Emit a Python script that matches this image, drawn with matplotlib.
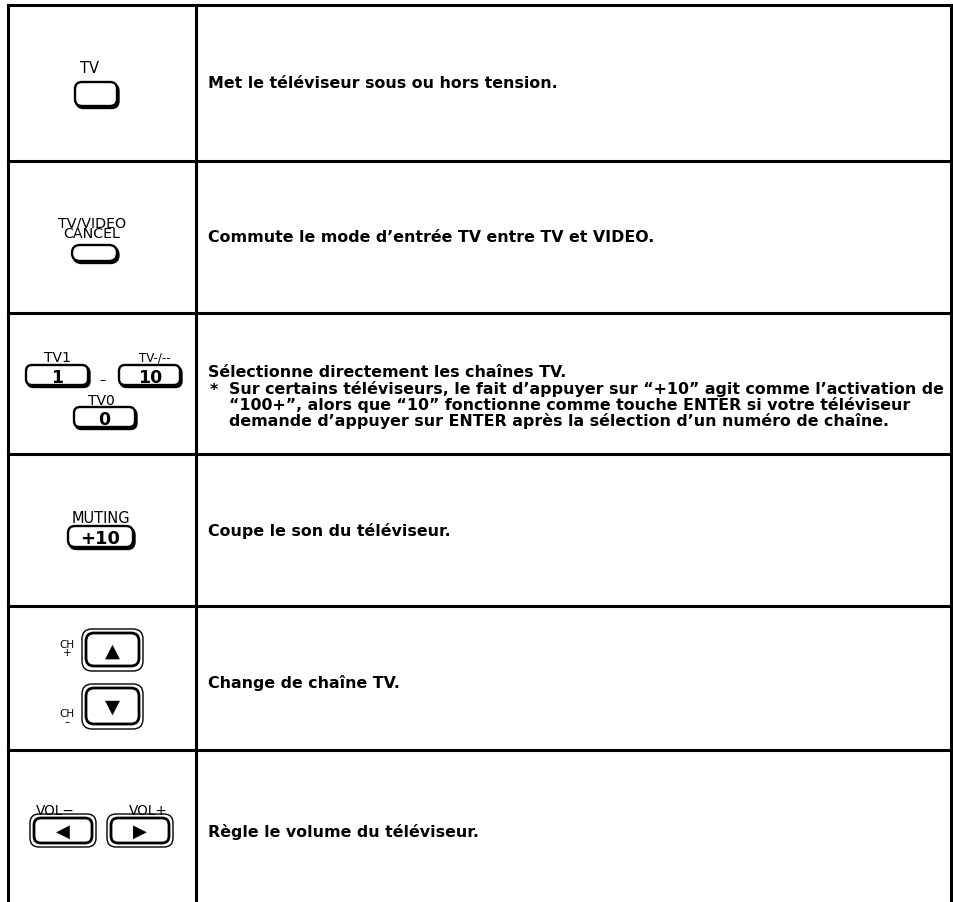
import matplotlib.pyplot as plt
from matplotlib.patches import FancyBboxPatch

# table rows: top edge of each row in pixels, last entry is the open bottom
row_edges = [6, 162, 314, 455, 607, 751, 903]
col_x = [8, 196, 951]

descriptions = [
    "Met le téléviseur sous ou hors tension.",
    "Commute le mode d\u2019entrée TV entre TV et VIDEO.",
    "Sélectionne directement les chaînes TV.",
    "Coupe le son du téléviseur.",
    "Change de chaîne TV.",
    "Règle le volume du téléviseur.",
]
desc_y = [84, 238, 373, 531, 683, 832]
footnote = [
    "Sur certains téléviseurs, le fait d\u2019appuyer sur \u201c+10\u201d agit comme l\u2019activation de",
    "\u201c100+\u201d, alors que \u201c10\u201d fonctionne comme touche ENTER si votre téléviseur",
    "demande d\u2019appuyer sur ENTER après la sélection d\u2019un numéro de chaîne.",
]

FONT = ['DejaVu Sans']
TXT = 11.45

fig = plt.figure(figsize=(9.54, 9.03), dpi=100)
ax = fig.add_axes([0, 0, 1, 1])
ax.set_xlim(0, 954)
ax.set_ylim(903, 0)
ax.axis('off')

lw = 2.2
for x in col_x:
    ax.plot([x, x], [row_edges[0], row_edges[-1]], color='k', lw=lw)
for y in row_edges[:-1]:
    ax.plot([col_x[0], col_x[2]], [y, y], color='k', lw=lw, solid_capstyle='projecting')

for t, y in zip(descriptions, desc_y):
    ax.text(208, y, t, fontsize=TXT, fontweight='bold', family=FONT, va='center', ha='left')
ax.text(210, 391, '*', fontsize=TXT, fontweight='bold', family=FONT, va='center', ha='left')
for i, line in enumerate(footnote):
    ax.text(229, 389 + 16 * i, line, fontsize=TXT, fontweight='bold', family=FONT, va='center', ha='left')


def button(x0, y0, x1, y1, r=7, shadow=True, lwb=1.7):
    if shadow:
        ax.add_patch(FancyBboxPatch((x0 + 1.5, y0 + 2), x1 - x0, y1 - y0,
                                    boxstyle=f"round,pad=0,rounding_size={r}",
                                    fc='k', ec='k', lw=lwb))
    ax.add_patch(FancyBboxPatch((x0, y0), x1 - x0, y1 - y0,
                                boxstyle=f"round,pad=0,rounding_size={r}",
                                fc='white', ec='k', lw=lwb))


def label(x, y, s, size=9.5, bold=False, va='baseline', ls=1.0):
    ax.text(x, y, s, fontsize=size, fontweight='bold' if bold else 'normal',
            family=FONT, ha='center', va=va, multialignment='center', linespacing=ls)


# row 1: TV
label(90, 73, 'TV', 10.5)
button(75, 83, 117, 107, r=7)

# row 2: TV/VIDEO CANCEL
label(92, 238, 'TV/VIDEO\nCANCEL', 10.3, ls=0.68)
button(72, 246, 117, 262, r=8)

# row 3: number buttons
label(57, 362, 'TV1', 10)
label(155, 362, 'TV-/--', 8.5)
button(26, 366, 88, 386, r=6)
label(57, 383, '1', 12.5, True)
label(103, 384, '\u2013', 9)
button(119, 366, 180, 386, r=6)
label(150, 383, '10', 12.5, True)
label(101, 405, 'TV0', 10)
button(74, 408, 135, 428, r=6)
label(104, 425, '0', 12.5, True)

# row 4: MUTING +10
label(101, 523, 'MUTING', 10.5)
button(68, 527, 133, 548, r=7)
label(100, 544, '+10', 13, True)

# row 5: CH +/-
for (y0, y1, tri) in [(630, 672, '\u25b2'), (685, 730, '\u25bc')]:
    ax.add_patch(FancyBboxPatch((82, y0), 61, y1 - y0,
                                boxstyle="round,pad=0,rounding_size=10",
                                fc='white', ec='k', lw=1.0))
    ax.add_patch(FancyBboxPatch((86, y0 + 4), 53, y1 - y0 - 9,
                                boxstyle="round,pad=0,rounding_size=8",
                                fc='white', ec='k', lw=2.0))
    label(112, (y0 + y1) / 2, tri, 14, va='center')
label(67, 656, 'CH\n+', 7.5, ls=0.75)
label(67, 725, 'CH\n\u2013', 7.5, ls=0.75)

# row 6: VOL -/+
label(55, 815, 'VOL\u2212', 9.8)
label(148, 815, 'VOL+', 9.8)
for (x0, tri) in [(30, '\u25c0'), (107, '\u25b6')]:
    ax.add_patch(FancyBboxPatch((x0, 815), 66, 33,
                                boxstyle="round,pad=0,rounding_size=9",
                                fc='white', ec='k', lw=1.0))
    ax.add_patch(FancyBboxPatch((x0 + 4, 819), 58, 25,
                                boxstyle="round,pad=0,rounding_size=7",
                                fc='white', ec='k', lw=2.0))
    label(x0 + 33, 831.5, tri, 13, va='center')

fig.savefig('out.png', dpi=100)
